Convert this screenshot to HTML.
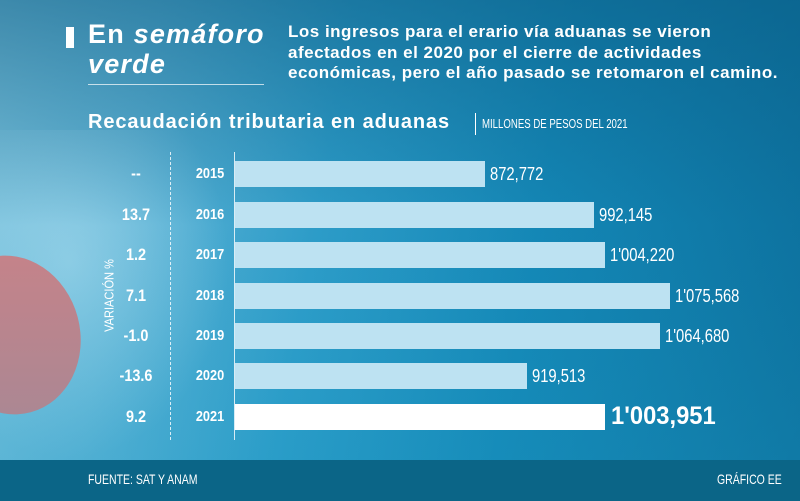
<!DOCTYPE html>
<html><head><meta charset="utf-8"><style>
body{margin:0;width:800px;height:501px;overflow:hidden;position:relative;font-family:"Liberation Sans Narrow","Liberation Sans",sans-serif;color:#fff;
background:linear-gradient(100deg,#7cc3dd 0%,#5fb4d6 18%,#2d9cc8 40%,#1487b6 65%,#0c6f9c 100%);}
.bg2{position:absolute;inset:0;background:linear-gradient(180deg,rgba(10,90,130,.55) 0%,rgba(10,90,130,0) 45%,rgba(30,160,200,.25) 100%);}
.blob{position:absolute;left:-60px;top:255px;width:140px;height:160px;border-radius:50%;background:#c98288;transform:rotate(-15deg);}
.lt{position:absolute;left:0;top:130px;width:230px;height:330px;background:radial-gradient(ellipse at 30% 40%,rgba(170,220,238,.6),rgba(170,220,238,0) 70%);}
.t{position:absolute;white-space:nowrap}
.bar{position:absolute;left:235px;height:26px;background:#bde2f2}
.v{position:absolute;width:60px;text-align:center;font-size:15px;font-weight:bold;transform:scaleX(.85)}
.val{position:absolute;font-size:18px;transform-origin:left;transform:scaleX(.82)}
</style></head><body>
<div class="lt"></div>
<div class="blob"></div>
<div class="bg2"></div>
<div style="position:absolute;left:66px;top:27px;width:8px;height:21px;background:#fff"></div>
<div class="t" style="left:88px;top:19px;font-family:'Liberation Sans',sans-serif;font-size:27px;font-weight:bold;line-height:30px;letter-spacing:1.2px">En <i>semáforo</i><br><i>verde</i></div>
<div style="position:absolute;left:88px;top:84px;width:176px;height:1px;background:rgba(255,255,255,.7)"></div>
<div class="t" style="left:288px;top:22px;font-family:'Liberation Sans',sans-serif;font-size:17px;font-weight:bold;line-height:20.5px;letter-spacing:0.5px">Los ingresos para el erario vía aduanas se vieron<br>afectados en el 2020 por el cierre de actividades<br>económicas, pero el año pasado se retomaron el camino.</div>
<div class="t" style="left:88px;top:111px;font-family:'Liberation Sans',sans-serif;font-size:20px;font-weight:bold;letter-spacing:0.9px">Recaudación tributaria en aduanas</div>
<div style="position:absolute;left:475px;top:113px;width:1px;height:22px;background:#fff"></div>
<div class="t" style="left:482px;top:116px;font-size:13px;transform-origin:left;transform:scaleX(.74)">MILLONES DE PESOS DEL 2021</div>
<div style="position:absolute;left:170px;top:152px;height:288px;border-left:1px dashed rgba(255,255,255,.8)"></div>
<div style="position:absolute;left:234px;top:152px;width:1px;height:288px;background:rgba(255,255,255,.8)"></div>
<div class="t" style="left:66px;top:288px;font-size:13px;transform:rotate(-90deg) scaleX(.85);transform-origin:center">VARIACIÓN %</div>

<div class="bar" style="top:161px;width:250px"></div>
<div class="bar" style="top:202px;width:359px"></div>
<div class="bar" style="top:242px;width:370px"></div>
<div class="bar" style="top:283px;width:435px"></div>
<div class="bar" style="top:323px;width:425px"></div>
<div class="bar" style="top:363px;width:292px"></div>
<div class="bar" style="top:404px;width:370px;background:#fff"></div>

<div class="v" style="left:106px;top:164px;font-size:17px">--</div>
<div class="v" style="left:106px;top:205px;font-size:17px">13.7</div>
<div class="v" style="left:106px;top:245px;font-size:17px">1.2</div>
<div class="v" style="left:106px;top:286px;font-size:17px">7.1</div>
<div class="v" style="left:106px;top:326px;font-size:17px">-1.0</div>
<div class="v" style="left:106px;top:366px;font-size:17px">-13.6</div>
<div class="v" style="left:106px;top:407px;font-size:17px">9.2</div>

<div class="v" style="left:180px;top:165px;font-size:15px">2015</div>
<div class="v" style="left:180px;top:206px;font-size:15px">2016</div>
<div class="v" style="left:180px;top:246px;font-size:15px">2017</div>
<div class="v" style="left:180px;top:287px;font-size:15px">2018</div>
<div class="v" style="left:180px;top:327px;font-size:15px">2019</div>
<div class="v" style="left:180px;top:367px;font-size:15px">2020</div>
<div class="v" style="left:180px;top:408px;font-size:15px">2021</div>

<div class="val" style="left:490px;top:164px">872,772</div>
<div class="val" style="left:599px;top:205px">992,145</div>
<div class="val" style="left:610px;top:245px">1'004,220</div>
<div class="val" style="left:675px;top:286px">1'075,568</div>
<div class="val" style="left:665px;top:326px">1'064,680</div>
<div class="val" style="left:532px;top:366px">919,513</div>
<div class="val" style="left:611px;top:402px;font-family:'Liberation Sans',sans-serif;font-weight:bold;font-size:25px;transform:scaleX(.95)">1'003,951</div>

<div style="position:absolute;left:0;top:460px;width:800px;height:41px;background:#0b6587"></div>
<div class="t" style="left:88px;top:471px;font-size:14px;transform-origin:left;transform:scaleX(.75)">FUENTE: SAT Y ANAM</div>
<div class="t" style="left:717px;top:471px;font-size:14px;transform-origin:left;transform:scaleX(.75)">GRÁFICO EE</div>
</body></html>
